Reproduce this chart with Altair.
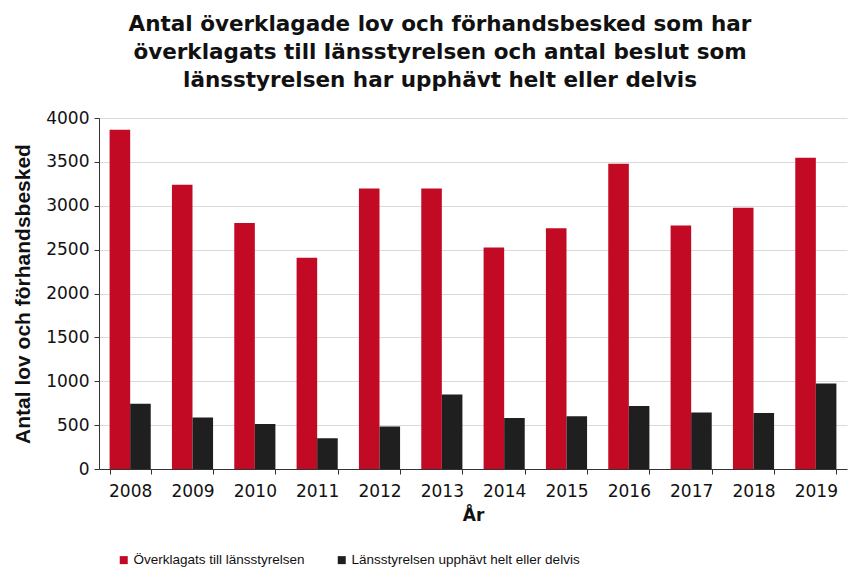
import altair as alt
import pandas as pd

years = ["2008", "2009", "2010", "2011", "2012", "2013", "2014", "2015", "2016", "2017", "2018", "2019"]
overklagats = [3867, 3240, 2802, 2407, 3198, 3198, 2525, 2745, 3479, 2776, 2977, 3548]
upphavt = [745, 586, 513, 350, 483, 848, 582, 601, 719, 643, 639, 973]
series_names = ["Överklagats till länsstyrelsen", "Länsstyrelsen upphävt helt eller delvis"]
colors = ["#C20A25", "#1F1F1F"]

rows = []
for i, y in enumerate(years):
    rows.append({"År": y, "Serie": series_names[0], "Antal": overklagats[i]})
    rows.append({"År": y, "Serie": series_names[1], "Antal": upphavt[i]})
df = pd.DataFrame(rows)

font = "DejaVu Sans"
font2 = "Liberation Sans"

chart = alt.Chart(df).mark_bar().encode(
    x=alt.X("År:N", sort=years,
            scale=alt.Scale(paddingInner=0.34, paddingOuter=0.17),
            axis=alt.Axis(title="År", labelAngle=0, tickBand="extent", grid=False,
                          labelFontSize=17, titleFontSize=17, titleFontWeight="bold",
                          labelColor="#111", titleColor="#111", domainColor="#333",
                          tickColor="#333", tickSize=5, labelPadding=9, titlePadding=8,
                          labelFont=font, titleFont=font)),
    xOffset=alt.XOffset("Serie:N", sort=series_names),
    y=alt.Y("Antal:Q", scale=alt.Scale(domain=[0, 4000]),
            axis=alt.Axis(title="Antal lov och förhandsbesked", values=list(range(0, 4001, 500)),
                          format="d",
                          labelFontSize=17, titleFontSize=21, titleFontWeight="bold",
                          labelColor="#111", titleColor="#111", domainColor="#333",
                          tickColor="#333", tickSize=5, labelPadding=5, titlePadding=12,
                          gridColor="#DADADA", labelFont=font, titleFont=font2)),
    color=alt.Color("Serie:N", sort=series_names,
                    scale=alt.Scale(domain=series_names, range=colors),
                    legend=alt.Legend(title=None, orient="none", direction="horizontal",
                                      legendX=18, legendY=435, symbolType="square",
                                      symbolSize=64, symbolStrokeWidth=0, labelFontSize=13.5,
                                      labelFont=font2, labelColor="#111", columnPadding=30,
                                      labelOffset=3, labelLimit=0)),
).properties(
    width=748,
    height=351,
    padding={"left": 91, "top": 110, "right": 2, "bottom": 100},
    autosize=alt.AutoSizeParams(type="none"),
    title=alt.TitleParams(
        text=["Antal överklagade lov och förhandsbesked som har",
              "överklagats till länsstyrelsen och antal beslut som",
              "länsstyrelsen har upphävt helt eller delvis"],
        fontSize=21.5, font=font, fontWeight="bold", color="#111",
        anchor="middle", lineHeight=28, offset=18, dx=-33),
).configure_view(stroke=None)

chart.save("out.html", embed_options={"renderer": "svg", "actions": False})
